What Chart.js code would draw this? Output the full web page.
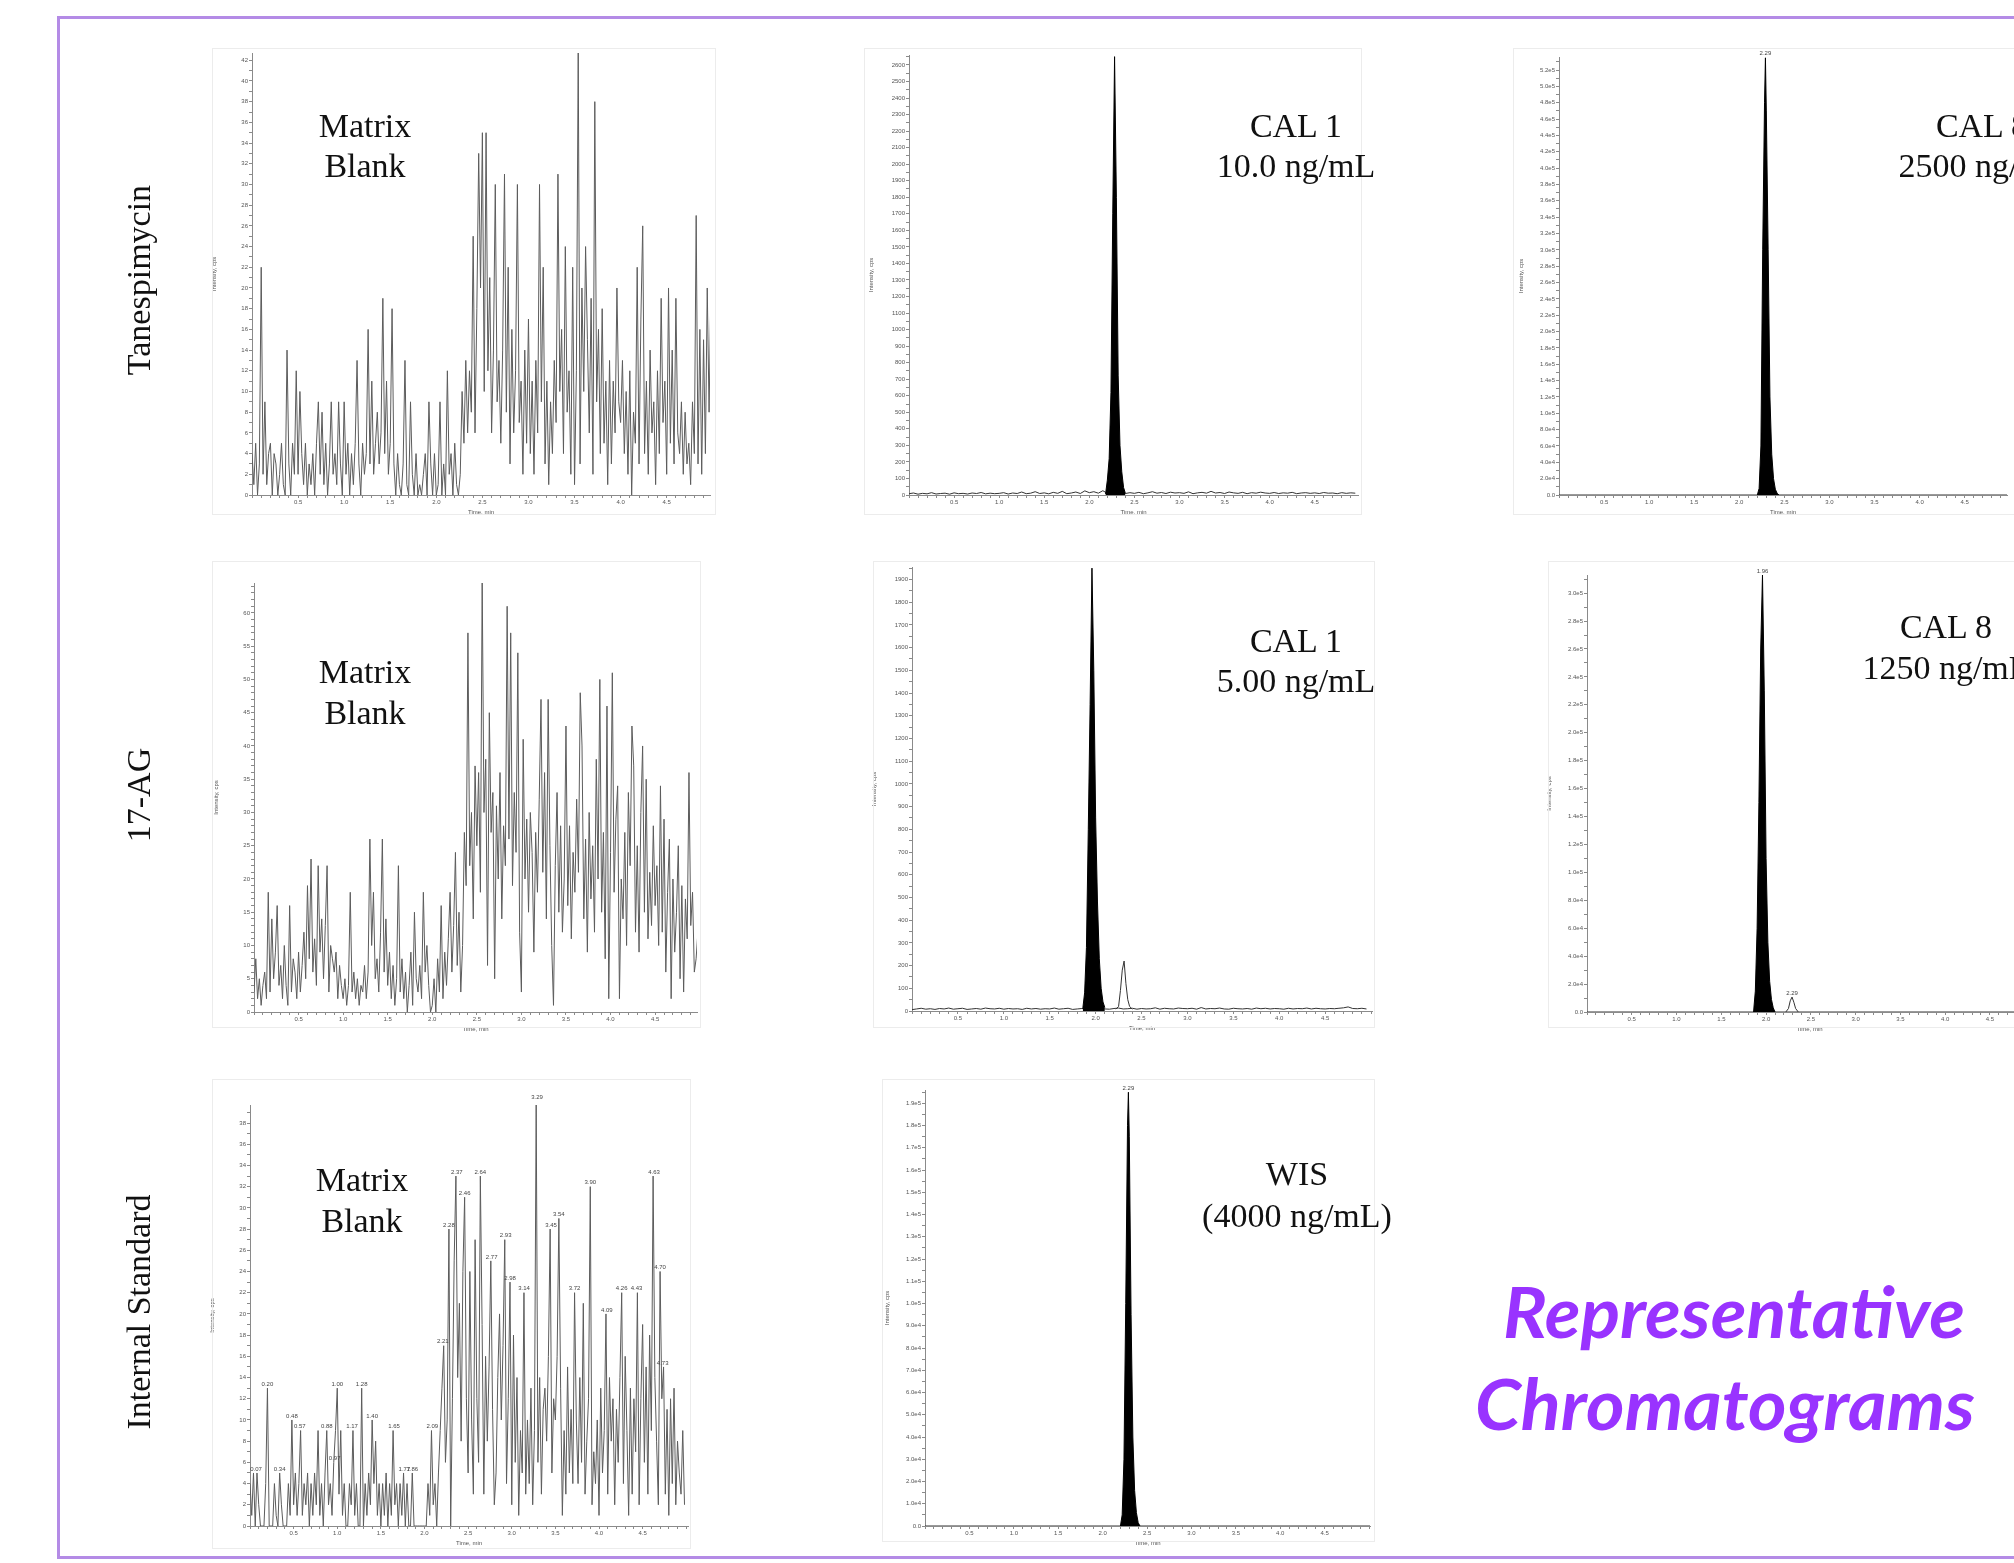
<!DOCTYPE html>
<html>
<head>
<meta charset="utf-8">
<title>Representative Chromatograms</title>
<script src="https://cdn.jsdelivr.net/npm/chart.js@4.4.1/dist/chart.umd.min.js"></script>
<style>
  html, body { margin: 0; padding: 0; background: #fff; }
  body { width: 2014px; height: 1563px; overflow: hidden; position: relative; }
  canvas { position: absolute; }
  #overlay { position: absolute; left: 0; top: 0; pointer-events: none; }
</style>
</head>
<body>
<svg id="overlay" width="2014" height="1563">
  <rect x="58.5" y="17.5" width="2100" height="1540" fill="none" stroke="#b48be6" stroke-width="3"/>
  <g id="frames" fill="none" stroke="#ececec" stroke-width="1"></g>
  <g font-family="Liberation Serif, Times New Roman, serif" font-size="34" fill="#111" text-anchor="middle">
    <text x="365" y="137">Matrix</text>
    <text x="365" y="177">Blank</text>
    <text x="1296" y="137">CAL 1</text>
    <text x="1296" y="177">10.0 ng/mL</text>
    <text x="1982" y="137">CAL 8</text>
    <text x="1982" y="177">2500 ng/mL</text>
    <text x="365" y="683">Matrix</text>
    <text x="365" y="724">Blank</text>
    <text x="1296" y="652">CAL 1</text>
    <text x="1296" y="692">5.00 ng/mL</text>
    <text x="1946" y="638">CAL 8</text>
    <text x="1946" y="679">1250 ng/mL</text>
    <text x="362" y="1191">Matrix</text>
    <text x="362" y="1232">Blank</text>
    <text x="1297" y="1185">WIS</text>
    <text x="1297" y="1227">(4000 ng/mL)</text>
    <text x="150" y="280" transform="rotate(-90 150 280)">Tanespimycin</text>
    <text x="150" y="795" transform="rotate(-90 150 795)">17-AG</text>
    <text x="150" y="1312" transform="rotate(-90 150 1312)">Internal Standard</text>
  </g>
  <g font-family="Lato, Open Sans, sans-serif" font-size="71" font-weight="700" font-style="italic" fill="#9933ff">
    <text x="1503" y="1338" textLength="462" lengthAdjust="spacingAndGlyphs">Representative</text>
    <text x="1475" y="1430" textLength="500" lengthAdjust="spacingAndGlyphs">Chromatograms</text>
  </g>
</svg>

<script>
// sampling interval of the blank traces (min) and of the calibrator baselines
const blankStep = 0.02;
const baseStep = 0.05;

// Tanespimycin matrix blank, intensity (cps), 0.00 - 4.98 min
const tanBlank = [
  4,1,5,0,3,22,2,9,1,4,5,0,4,3,0,2,5,1,0,14,3,0,5,2,12,
  2,10,4,1,5,0,3,1,4,0,5,9,2,8,1,5,0,3,9,2,4,1,9,3,0,
  9,2,5,0,4,1,5,13,3,0,5,2,4,16,3,11,2,5,8,3,6,19,4,11,2,
  5,18,3,0,4,1,0,3,13,1,0,9,2,0,4,0,1,0,2,4,0,9,3,0,4,
  0,1,9,0,3,0,12,2,4,0,5,1,0,2,10,5,13,6,12,8,25,6,18,33,20,
  35,10,35,12,21,6,14,30,9,13,5,14,31,8,22,3,16,6,12,30,7,11,2,14,5,
  17,4,11,2,13,6,30,9,22,3,11,1,9,4,13,7,31,10,16,4,24,8,12,2,22,
  1,12,43,3,20,10,24,15,6,19,2,38,9,16,4,18,5,11,1,13,3,11,6,20,9,
  7,13,4,10,2,12,0,8,5,22,3,17,26,4,11,2,14,6,9,1,12,4,19,7,11,
  2,20,5,14,3,19,6,4,9,2,8,3,5,1,9,4,27,3,16,2,15,4,20,8,20
];

// Tanespimycin CAL 1 (10.0 ng/mL)
const tanCal1Base = [
  8,12,5,10,7,14,6,9,11,5,13,8,10,6,12,9,15,7,11,8,
  10,14,6,12,9,18,8,11,20,9,13,7,16,10,22,8,12,18,9,25,
  14,20,11,26,10,15,12,18,9,14,10,16,8,13,20,11,15,9,17,12,
  14,10,19,8,13,16,11,22,12,15,9,18,13,10,16,8,14,11,17,12,
  10,15,9,13,11,16,8,12,14,10,13,9,15,11,12,8,14,10,13,11
];
const tanCal1PeakTimes = [2.18, 2.20, 2.22, 2.24, 2.26, 2.28, 2.30, 2.32, 2.34, 2.36, 2.38, 2.40];
const tanCal1PeakValues = [5, 90, 220, 620, 1700, 2650, 1800, 720, 300, 140, 45, 10];

// Tanespimycin CAL 8 (2500 ng/mL)
const tanCal8BaseTimes = [0, 2.20, 2.44, 4.97];
const tanCal8BaseValues = [0, 0, 0, 0];
const tanCal8PeakTimes = [2.20, 2.22, 2.24, 2.26, 2.28, 2.29, 2.30, 2.32, 2.34, 2.36, 2.38, 2.40, 2.42, 2.44];
const tanCal8PeakValues = [0, 8000, 60000, 300000, 480000, 535000, 470000, 300000, 120000, 50000, 20000, 7000, 2000, 0];

// 17-AG matrix blank
const agBlank = [
  3,8,2,5,1,4,6,2,18,3,14,5,9,16,4,7,2,10,4,1,16,3,8,6,2,
  9,3,7,12,5,19,8,23,6,11,4,22,9,14,5,13,22,3,10,8,6,9,2,7,4,
  2,5,1,4,18,3,6,2,5,1,4,3,7,2,6,26,10,18,5,8,3,12,26,6,14,
  4,9,2,7,1,5,22,3,8,2,6,0,4,9,1,15,5,3,7,2,18,6,10,4,0,
  1,5,0,8,3,16,2,9,4,11,18,6,13,24,7,15,3,10,27,19,57,22,30,14,37,
  25,36,18,65,30,38,7,45,27,33,5,31,20,36,14,28,22,61,26,57,19,33,24,54,12,
  3,41,20,29,15,30,24,9,27,18,32,47,21,36,14,47,25,10,1,22,33,15,28,12,20,
  43,16,28,11,24,18,32,21,48,40,14,26,9,30,17,25,12,38,20,50,15,27,8,46,2,
  24,51,18,29,34,2,20,14,27,10,33,22,43,37,12,25,9,30,40,15,35,11,21,13,28,
  16,22,10,34,12,29,6,18,26,2,20,9,15,25,5,19,3,17,11,36,13,18,6,8,12
];

// 17-AG CAL 1 (5.00 ng/mL)
const agCal1Base = [
  6,9,12,8,10,7,11,9,13,8,10,12,7,9,11,8,13,10,9,12,
  8,11,9,10,7,12,9,11,8,10,9,13,8,10,12,7,9,11,8,6,
  10,12,9,8,11,13,9,10,12,8,11,9,10,14,8,12,10,9,13,11,
  10,12,8,15,9,11,10,13,9,8,12,10,9,11,8,13,10,12,9,11,
  10,8,12,9,11,10,13,9,12,10,9,11,10,12,14,18,11,10,12,9
];
const agCal1PeakTimes = [1.86, 1.88, 1.90, 1.92, 1.94, 1.96, 1.98, 2.00, 2.02, 2.04, 2.06, 2.08, 2.10];
const agCal1PeakValues = [10, 80, 280, 800, 1350, 1950, 1500, 850, 480, 230, 100, 40, 15];
const agCal1MinorTimes = [2.22, 2.25, 2.27, 2.29, 2.31, 2.33, 2.35, 2.37, 2.40];
const agCal1MinorValues = [8, 20, 90, 180, 220, 120, 50, 20, 8];

// 17-AG CAL 8 (1250 ng/mL)
const agCal8BaseTimes = [0, 1.86, 2.10, 2.22, 2.36, 4.97];
const agCal8BaseValues = [0, 0, 0, 0, 0, 0];
const agCal8PeakTimes = [1.86, 1.88, 1.90, 1.92, 1.94, 1.96, 1.98, 2.00, 2.02, 2.04, 2.06, 2.08, 2.10];
const agCal8PeakValues = [0, 15000, 60000, 150000, 260000, 313000, 230000, 110000, 50000, 22000, 9000, 3000, 0];
const agCal8MinorTimes = [2.22, 2.25, 2.27, 2.29, 2.31, 2.33, 2.36];
const agCal8MinorValues = [0, 2500, 8000, 10700, 7000, 2500, 0];

// Internal standard matrix blank
const isBlank = [
  4,1,5,0,5,2,0,0,0,4,13,0,0,0,4,1,0,5,2,0,0,0,4,1,10,
  2,5,1,4,9,1,4,2,5,0,4,1,5,2,9,1,4,0,5,9,2,4,1,6,9,
  13,3,9,1,4,0,0,4,2,9,1,4,0,0,13,0,4,1,5,2,10,4,8,1,4,
  0,4,1,5,0,4,1,9,2,4,0,4,1,5,0,4,0,0,5,0,0,0,0,0,0,
  0,0,4,1,9,2,4,0,5,9,13,17,6,10,28,0,12,25,33,14,21,8,24,31,12,
  5,24,10,3,27,12,6,33,19,3,16,8,15,25,11,2,5,14,20,10,17,27,4,12,23,
  2,18,6,14,1,9,5,22,3,10,4,13,2,9,40,6,14,3,11,13,8,16,28,5,12,
  10,16,29,13,1,9,3,15,5,11,4,22,10,4,14,6,21,3,8,12,32,2,7,4,10,
  1,13,5,9,20,3,14,8,12,2,11,6,14,22,4,16,9,1,13,3,12,7,22,2,12,
  19,6,15,3,18,9,33,14,8,2,24,12,15,3,11,1,12,4,13,2,8,5,3,9,2
];
const isBlankPeakTimes = [0.07,0.20,0.34,0.48,0.57,0.88,0.97,1.00,1.17,1.28,1.40,1.65,1.77,1.86,2.09,
  2.21,2.28,2.37,2.46,2.64,2.77,2.93,2.98,3.14,3.29,3.45,3.54,3.72,3.90,4.09,4.26,4.43,4.63,4.70,4.73];
const isBlankPeakHeights = [5,13,5,10,9,9,6,13,9,13,10,9,5,5,9,
  17,28,33,31,33,25,27,23,22,40,28,29,22,32,20,22,22,33,24,15];

// Working internal standard (4000 ng/mL)
const wisBaseTimes = [0, 2.20, 2.42, 5.01];
const wisBaseValues = [0, 0, 0, 0];
const wisPeakTimes = [2.20, 2.22, 2.24, 2.26, 2.28, 2.29, 2.30, 2.32, 2.34, 2.36, 2.38, 2.40, 2.42];
const wisPeakValues = [0, 5000, 30000, 100000, 180000, 195000, 175000, 95000, 40000, 16000, 6000, 1500, 0];

// ---------------------------------------------------------------
const AXIS = '#8a8a8a';
const TICK_COLOR = '#555';
const TICK_FONT = 'Liberation Sans, Arial, sans-serif';
const BLANK_COLOR = '#5c5c5c';
const Y_BOX = 45, X_BOX = 24, PAD = 14;
const X_MINOR = 0.1, X_MAJOR = 0.5;

function series(values, step) {
  return values.map((v, i) => ({ x: Math.round(i * step * 1000) / 1000, y: v }));
}
function pairs(times, values) {
  return times.map((t, i) => ({ x: t, y: values[i] }));
}
function apex(times, values) {
  let k = 0;
  values.forEach((v, i) => { if (v > values[k]) k = i; });
  return { t: times[k], v: values[k], text: times[k].toFixed(2) };
}
function trace(data, color) {
  return { data, showLine: true, borderColor: color, borderWidth: 1, pointRadius: 0, fill: false, tension: 0 };
}
function filled(data) {
  return { data, showLine: true, borderColor: '#000', backgroundColor: '#000', borderWidth: 1,
           pointRadius: 0, fill: 'origin', tension: 0 };
}
function expLabel(v) {
  if (v === 0) return '0.0';
  const e = Math.floor(Math.log10(v) + 1e-9);
  return (v / Math.pow(10, e)).toFixed(1) + 'e' + e;
}
function onStep(v, step) {
  const r = v / step;
  return Math.abs(r - Math.round(r)) < 1e-6;
}
// evenly spaced tick values from 0 up to max
function tickList(step, max) {
  const t = [];
  for (let k = 0; k * step <= max + 1e-9; k++) t.push({ value: Math.round(k * step * 1000) / 1000 });
  return t;
}

const panels = [
  { box: [252, 53, 710, 495], frame: [212, 48, 715, 514], xMax: 4.97, yMax: 42.7, yMinor: 1, yMajor: 2, fmt: 'int',
    datasets: [trace(series(tanBlank, blankStep), BLANK_COLOR)], labels: [] },
  { box: [909, 55, 1358, 495], frame: [864, 48, 1361, 514], xMax: 4.98, yMax: 2660, yMinor: 50, yMajor: 100, fmt: 'int',
    datasets: [filled(pairs(tanCal1PeakTimes, tanCal1PeakValues)), trace(series(tanCal1Base, baseStep), '#333')], labels: [] },
  { box: [1559, 57, 2007, 495], frame: [1513, 48, 2040, 514], xMax: 4.97, yMax: 536000, yMinor: 10000, yMajor: 20000, fmt: 'exp',
    datasets: [filled(pairs(tanCal8PeakTimes, tanCal8PeakValues)), trace(pairs(tanCal8BaseTimes, tanCal8BaseValues), '#333')],
    labels: [apex(tanCal8PeakTimes, tanCal8PeakValues)] },
  { box: [254, 583, 697, 1012], frame: [212, 561, 700, 1027], xMax: 4.97, yMax: 64.5, yMinor: 1, yMajor: 5, fmt: 'int',
    datasets: [trace(series(agBlank, blankStep), BLANK_COLOR)], labels: [] },
  { box: [912, 567, 1372, 1011], frame: [873, 561, 1374, 1027], xMax: 5.01, yMax: 1955, yMinor: 50, yMajor: 100, fmt: 'int',
    datasets: [filled(pairs(agCal1PeakTimes, agCal1PeakValues)), trace(pairs(agCal1MinorTimes, agCal1MinorValues), '#333'),
               trace(series(agCal1Base, baseStep), '#333')], labels: [] },
  { box: [1587, 575, 2032, 1012], frame: [1548, 561, 2040, 1027], xMax: 4.97, yMax: 313000, yMinor: 10000, yMajor: 20000, fmt: 'exp',
    datasets: [filled(pairs(agCal8PeakTimes, agCal8PeakValues)), trace(pairs(agCal8MinorTimes, agCal8MinorValues), '#333'),
               trace(pairs(agCal8BaseTimes, agCal8BaseValues), '#333')],
    labels: [apex(agCal8PeakTimes, agCal8PeakValues), apex(agCal8MinorTimes, agCal8MinorValues)] },
  { box: [250, 1105, 688, 1526], frame: [212, 1079, 690, 1548], xMax: 5.02, yMax: 39.7, yMinor: 1, yMajor: 2, fmt: 'int',
    datasets: [trace(series(isBlank, blankStep), BLANK_COLOR)],
    labels: isBlankPeakTimes.map((t, i) => ({ t, v: isBlankPeakHeights[i], text: t.toFixed(2) })) },
  { box: [925, 1090, 1370, 1526], frame: [882, 1079, 1374, 1541], xMax: 5.01, yMax: 196000, yMinor: 5000, yMajor: 10000, fmt: 'exp',
    datasets: [filled(pairs(wisPeakTimes, wisPeakValues)), trace(pairs(wisBaseTimes, wisBaseValues), '#333')],
    labels: [apex(wisPeakTimes, wisPeakValues)] }
];

const peakLabels = {
  id: 'peakLabels',
  afterDatasetsDraw(chart, args, opts) {
    const { ctx, scales: { x, y } } = chart;
    ctx.save();
    ctx.font = '6px ' + TICK_FONT;
    ctx.fillStyle = '#444';
    ctx.textAlign = 'center';
    ctx.textBaseline = 'bottom';
    (opts.items || []).forEach(it => {
      ctx.fillText(it.text, x.getPixelForValue(it.t), y.getPixelForValue(it.v) - 1);
    });
    ctx.restore();
  }
};

const frames = document.getElementById('frames');
const svgNS = 'http://www.w3.org/2000/svg';

panels.forEach(p => {
  const [l, t, r, b] = p.frame;
  const rect = document.createElementNS(svgNS, 'rect');
  rect.setAttribute('x', l + 0.5); rect.setAttribute('y', t + 0.5);
  rect.setAttribute('width', r - l); rect.setAttribute('height', b - t);
  frames.appendChild(rect);

  const canvas = document.createElement('canvas');
  const w = p.box[2] - p.box[0] + Y_BOX + PAD;
  const h = p.box[3] - p.box[1] + PAD + X_BOX;
  canvas.width = w; canvas.height = h;
  canvas.style.left = (p.box[0] - Y_BOX) + 'px';
  canvas.style.top = (p.box[1] - PAD) + 'px';
  document.body.insertBefore(canvas, document.getElementById('overlay'));

  const font = { size: 6, family: TICK_FONT };
  new Chart(canvas, {
    type: 'scatter',
    data: { datasets: p.datasets },
    plugins: [peakLabels],
    options: {
      responsive: false,
      animation: false,
      devicePixelRatio: 1,
      layout: { padding: { left: 0, top: PAD, right: PAD, bottom: 0 } },
      plugins: { legend: { display: false }, tooltip: { enabled: false }, peakLabels: { items: p.labels } },
      scales: {
        x: {
          type: 'linear', min: 0, max: p.xMax, bounds: 'data',
          border: { display: true, color: AXIS, width: 1 },
          grid: { display: true, drawOnChartArea: false, drawTicks: true, tickLength: 3, color: AXIS },
          ticks: {
            autoSkip: false, maxRotation: 0, minRotation: 0, padding: 1, font, color: TICK_COLOR,
            callback: v => (v > 0.25 && v < 4.75 && onStep(v, X_MAJOR)) ? v.toFixed(1) : ''
          },
          afterBuildTicks: s => { s.ticks = tickList(X_MINOR, p.xMax); },
          title: { display: true, text: 'Time, min', font, color: TICK_COLOR, padding: { top: 1, bottom: 3 } },
          afterFit: s => { s.height = X_BOX; }
        },
        y: {
          type: 'linear', min: 0, max: p.yMax, bounds: 'data',
          border: { display: true, color: AXIS, width: 1 },
          grid: { display: true, drawOnChartArea: false, drawTicks: true, tickLength: 3, color: AXIS },
          ticks: {
            autoSkip: false, padding: 1, font, color: TICK_COLOR,
            callback: v => onStep(v, p.yMajor) ? (p.fmt === 'exp' ? expLabel(v) : String(Math.round(v))) : ''
          },
          afterBuildTicks: s => { s.ticks = tickList(p.yMinor, p.yMax); },
          title: { display: true, text: 'Intensity, cps', font, color: TICK_COLOR, padding: { top: 4, bottom: 0 } },
          afterFit: s => { s.width = Y_BOX; }
        }
      }
    }
  });
});
</script>
</body>
</html>
